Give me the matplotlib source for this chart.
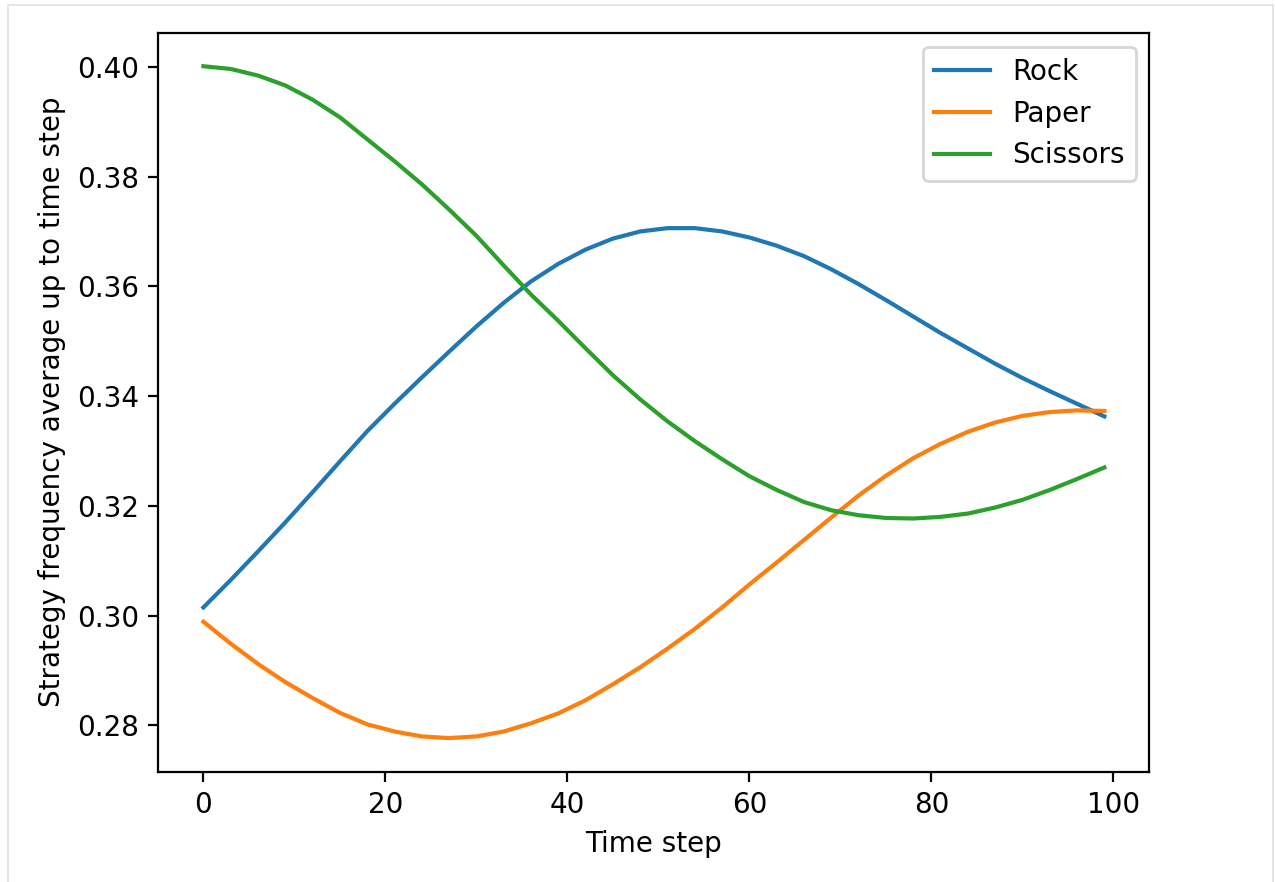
import numpy as np
import matplotlib
matplotlib.use("Agg")
import matplotlib.pyplot as plt
from matplotlib.patches import Rectangle

# values, every 3 time steps
steps = list(range(0, 100, 3))

rock = [0.3015, 0.3065, 0.3117, 0.3170, 0.3225, 0.3281, 0.3336, 0.3386, 0.3434, 0.3481,
        0.3527, 0.3570, 0.3609, 0.3641, 0.3667, 0.3687, 0.3700, 0.3706, 0.3706, 0.3700,
        0.3689, 0.3674, 0.3655, 0.3631, 0.3604, 0.3575, 0.3545, 0.3515, 0.3487, 0.3459,
        0.3433, 0.3409, 0.3386, 0.3363]
paper = [0.2989, 0.2949, 0.2912, 0.2879, 0.2850, 0.2823, 0.2802, 0.2789, 0.2780, 0.2777,
         0.2780, 0.2789, 0.2804, 0.2822, 0.2846, 0.2875, 0.2906, 0.2940, 0.2976, 0.3015,
         0.3057, 0.3097, 0.3138, 0.3179, 0.3219, 0.3255, 0.3287, 0.3313, 0.3335, 0.3352,
         0.3364, 0.3371, 0.3374, 0.3373]
scissors = [0.4001, 0.3996, 0.3984, 0.3966, 0.3940, 0.3908, 0.3868, 0.3828, 0.3786, 0.3740,
            0.3692, 0.3638, 0.3585, 0.3537, 0.3487, 0.3438, 0.3394, 0.3354, 0.3318, 0.3285,
            0.3254, 0.3229, 0.3207, 0.3192, 0.3183, 0.3178, 0.3177, 0.3180, 0.3186, 0.3197,
            0.3211, 0.3229, 0.3249, 0.3270]

labels = ["Rock", "Paper", "Scissors"]

fig = plt.figure(figsize=(6.375, 4.41), dpi=200)
ax = fig.add_axes([0.1242, 0.1251, 0.7773, 0.8379])

for series, lab in zip([rock, paper, scissors], labels):
    ax.plot(steps, series, label=lab)

ax.set_xlabel("Time step")
ax.set_ylabel("Strategy frequency average up to time step")
ax.legend(loc="upper right")

# light frame around the output, as in the notebook screenshot
fig.patches.append(Rectangle((8 / 1275, -0.01), (1273 - 8) / 1275, 1 - 5 / 882 + 0.01,
                             transform=fig.transFigure, fill=False,
                             edgecolor="#e0e0e0", linewidth=0.6))

fig.savefig("out.png", dpi=200)
